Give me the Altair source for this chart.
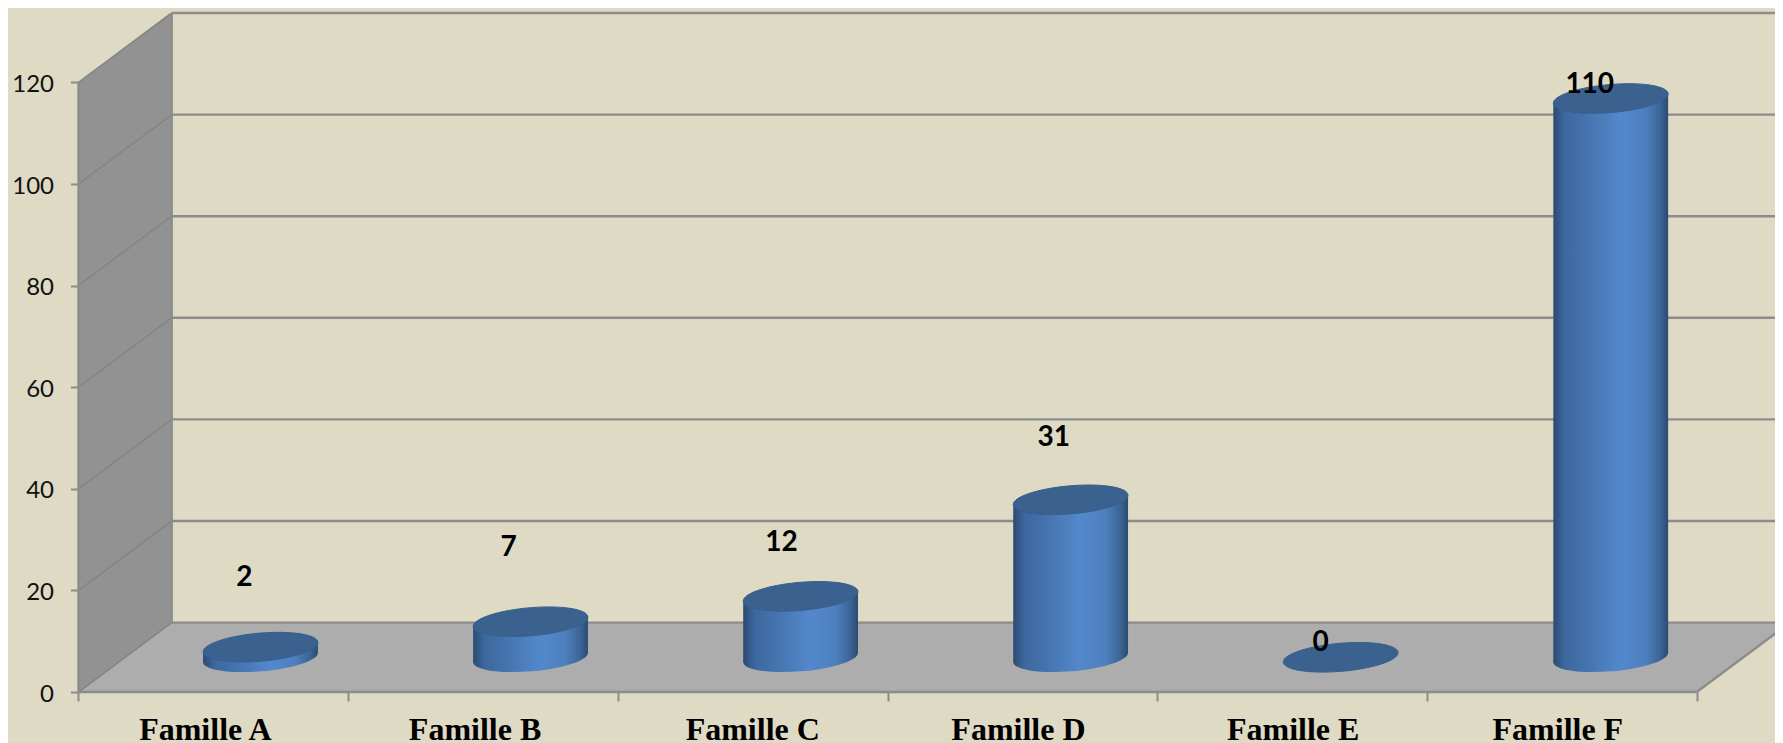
import altair as alt
import pandas as pd

families = ["Famille A", "Famille B", "Famille C", "Famille D", "Famille E", "Famille F"]
values = [2, 7, 12, 31, 0, 110]
y_ticks = [0, 20, 40, 60, 80, 100, 120]

# pixel nudges of the hand-placed labels
label_dx = [-16, -22, -19, -17, -20, -21]
label_dy = [69, 74, 53, 62, 14, 14]
family_dx = [-8, -8, 0, -4, 1, -4]

W, H = 1767, 735
PX_CAT = 269.7
PX_UNIT = 5.08
LEFT_PX = 70.5
ZERO_PX = 684.0

X_MIN = -0.5 - LEFT_PX / PX_CAT
X_MAX = X_MIN + W / PX_CAT
Y_MIN = -(H - ZERO_PX) / PX_UNIT
Y_MAX = Y_MIN + H / PX_UNIT
DX = 93.2 / PX_CAT
DY = 69.4 / PX_UNIT
HALF_W = 57.4 / PX_CAT
SHEAR = 4.7 / PX_UNIT
PITCH = 270.05 / PX_CAT
N = len(families)
XL, XR = -0.5, N - 0.5

BG = "#DEDAC3"
LINE = "#8C8C8C"
WALL = "#929292"
FLOOR = "#ADADAD"
CAP = "#3B618F"


def ellipse_path(b, k):
    c = 0.5523
    pts = [(1, 0), (1, c), (c, 1), (0, 1), (-c, 1), (-1, c), (-1, 0),
           (-1, -c), (-c, -1), (0, -1), (c, -1), (1, -c), (1, 0)]
    tr = [(x, b * y - k * x) for x, y in pts]
    s = f"M{tr[0][0]:.4f},{tr[0][1]:.4f}"
    for i in range(1, 13, 3):
        s += "C" + " ".join(f"{p[0]:.4f},{p[1]:.4f}" for p in tr[i:i + 3])
    return s + "Z"


ELLIPSE = ellipse_path(0.245, 0.081)
ELLIPSE_SIZE = (2 * 57.4) ** 2

side = alt.LinearGradient(
    gradient="linear", x1=0, x2=1, y1=0, y2=0,
    stops=[
        alt.GradientStop(color="#2B4A72", offset=0),
        alt.GradientStop(color="#3D689F", offset=0.1),
        alt.GradientStop(color="#4674AE", offset=0.3),
        alt.GradientStop(color="#5388CC", offset=0.58),
        alt.GradientStop(color="#4E80BF", offset=0.8),
        alt.GradientStop(color="#3C6596", offset=0.93),
        alt.GradientStop(color="#2B4A70", offset=1),
    ],
)

xs = alt.Scale(domain=[X_MIN, X_MAX], nice=False, zero=False)
ys = alt.Scale(domain=[Y_MIN, Y_MAX], nice=False, zero=False)

x_axis = alt.Axis(
    orient="bottom", values=[XL + i for i in range(N + 1)], labels=False, domain=False,
    grid=False, offset=-(H - ZERO_PX), tickSize=9, tickWidth=2, tickColor=LINE, zindex=1)
y_axis = alt.Axis(
    orient="left", values=y_ticks, domain=False, grid=False, offset=-LEFT_PX,
    tickSize=8, tickWidth=2, tickColor=LINE, labelPadding=17, labelOffset=2,
    labelFont="Lato", labelFontSize=24, labelColor="#111111", zindex=1)

X = lambda f="x", **k: alt.X(f"{f}:Q", scale=xs, axis=x_axis, title=None, **k)
Y = lambda f="y", **k: alt.Y(f"{f}:Q", scale=ys, axis=y_axis, title=None, **k)

# walls and floor
wall_df = pd.DataFrame({
    "x": [XL, XL + DX],
    "y": [y_ticks[-1], y_ticks[-1] + DY],
    "y2": [0, DY],
})
wall = alt.Chart(wall_df).mark_area(color=WALL, interpolate="linear").encode(
    x=X(), y=Y(), y2="y2:Q")

floor_df = pd.DataFrame({
    "x": [XL, XL + DX, XR, XR + DX],
    "y": [0, DY, DY, DY],
    "y2": [0, 0, 0, DY],
})
floor = alt.Chart(floor_df).mark_area(color=FLOOR, clip=True, interpolate="linear").encode(
    x=X(), y=Y(), y2="y2:Q")

# gridlines
grid_df = pd.DataFrame({
    "x": [XL + DX] * len(y_ticks), "x2": [X_MAX] * len(y_ticks),
    "y": [t + DY for t in y_ticks], "y2": [t + DY for t in y_ticks],
})
grid = alt.Chart(grid_df).mark_rule(color=LINE, strokeWidth=2.4).encode(
    x=X(), x2="x2:Q", y=Y(), y2="y2:Q")

diag_df = pd.DataFrame({
    "x": [XL] * len(y_ticks), "x2": [XL + DX] * len(y_ticks),
    "y": y_ticks, "y2": [t + DY for t in y_ticks],
})
diag = alt.Chart(diag_df).mark_rule(color="#858585", strokeWidth=1.6).encode(
    x=X(), x2="x2:Q", y=Y(), y2="y2:Q")

edge_df = pd.DataFrame({
    "x": [XL, XL + DX, XL, XR],
    "x2": [XL, XL + DX, XR, XR + DX],
    "y": [0, DY, 0, 0],
    "y2": [y_ticks[-1], y_ticks[-1] + DY, 0, DY],
})
edges = alt.Chart(edge_df).mark_rule(color=LINE, strokeWidth=2.4, clip=True).encode(
    x=X(), x2="x2:Q", y=Y(), y2="y2:Q")

# cylinders
centers = [i * PITCH + DX / 2 + 0.002 for i in range(N)]
base_df = pd.DataFrame({"x": centers, "y": [DY / 2] * N, "v": values})
tops = pd.DataFrame({"x": centers, "y": [v + DY / 2 for v in values]})

body_rows = []
for fam, c, v in zip(families, centers, values):
    if v <= 0:
        continue
    body_rows.append({"f": fam, "x": c - HALF_W, "y": v + DY / 2 - SHEAR, "y2": DY / 2 - SHEAR})
    body_rows.append({"f": fam, "x": c + HALF_W, "y": v + DY / 2 + SHEAR, "y2": DY / 2 + SHEAR})
body_df = pd.DataFrame(body_rows)

bottoms = alt.Chart(base_df[base_df.v > 0]).mark_point(
    shape=ELLIPSE, size=ELLIPSE_SIZE, filled=True, opacity=1, fill=side, strokeWidth=0
).encode(x=X(), y=Y())

bodies = alt.Chart(body_df).mark_area(fill=side, interpolate="linear").encode(
    x=X(), y=Y(), y2="y2:Q", detail="f:N")

caps = alt.Chart(tops).mark_point(
    shape=ELLIPSE, size=ELLIPSE_SIZE, filled=True, opacity=1, fill=CAP,
    stroke="#35608F", strokeWidth=1
).encode(x=X(), y=Y())

# texts
lab_df = pd.DataFrame({
    "t": [str(v) for v in values],
    "x": [c + d / PX_CAT for c, d in zip(centers, label_dx)],
    "y": [v + DY / 2 + d / PX_UNIT for v, d in zip(values, label_dy)],
})
value_labels = alt.Chart(lab_df).mark_text(
    font="Lato", fontWeight="bold", fontSize=28, color="#000000", align="center", baseline="middle"
).encode(x=X(), y=Y(), text="t:N")

cat_df = pd.DataFrame({
    "t": families,
    "x": [i + d / PX_CAT for i, d in zip(range(N), family_dx)],
    "y": [-7.55] * N,
})
cat_labels = alt.Chart(cat_df).mark_text(
    font="Liberation Serif", fontWeight="bold", fontSize=32, color="#000000", align="center", baseline="middle"
).encode(x=X(), y=Y(), text="t:N")

chart = alt.layer(
    wall, floor, grid, diag, edges, bottoms, bodies, caps, value_labels, cat_labels
).resolve_scale(x="shared", y="shared").properties(
    width=W, height=H, background=BG, padding=0, autosize=alt.AutoSizeParams(type="none")
).configure_view(stroke=None)

chart.save("out.html", embed_options={"renderer": "svg", "actions": False})
